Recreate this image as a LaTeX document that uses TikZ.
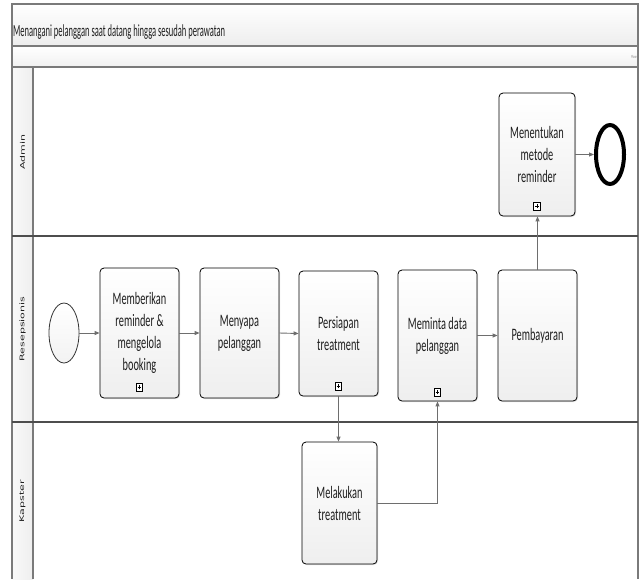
\documentclass[tikz,border=0pt]{standalone}
\usepackage{fontspec}
\usetikzlibrary{arrows.meta,shapes.geometric,shadows}
\newfontfamily\taskfont{Carlito}[FakeStretch=0.59]
\newfontfamily\titlefont{Carlito}[FakeStretch=0.5]
\newfontfamily\lanefont{DejaVu Sans}
\definecolor{framegray}{HTML}{7A7A7A}
\definecolor{lanegray}{HTML}{4D4D4D}
\definecolor{flowgray}{HTML}{6E6E6E}
\definecolor{textdark}{HTML}{1E1E1E}
\begin{document}
\begin{tikzpicture}[x=1pt,y=-1pt,
  frameline/.style={draw=framegray,line width=1.1pt},
  laneline/.style={draw=lanegray,line width=1.5pt},
  task/.style={draw=black,line width=0.8pt,rounded corners=4pt,
    top color=white,bottom color=gray!13,
    drop shadow={shadow xshift=1pt,shadow yshift=-1pt,opacity=0.25},
    align=center,inner sep=2pt,text=textdark,
    font=\taskfont\fontsize{17.5}{22}\selectfont},
  subproc/.style={draw=black,line width=0.7pt,fill=white,inner sep=0pt,
    minimum width=6.5pt,minimum height=8pt,
    path picture={\draw[line width=0.8pt]
      ([xshift=-1.8pt]path picture bounding box.center) -- ([xshift=1.8pt]path picture bounding box.center)
      ([yshift=-2pt]path picture bounding box.center) -- ([yshift=2pt]path picture bounding box.center);}},
  flow/.style={draw=flowgray,line width=0.9pt,-{Triangle[length=5pt,width=4pt]}},
  lanelabel/.style={rotate=90,text=textdark,inner sep=0pt,font=\lanefont\fontsize{11}{12}\selectfont}]

\useasboundingbox (0,0) rectangle (639,579);

% pool header, phase bar and lane header strip
\path[top color=white,bottom color=gray!14] (12,4) rectangle (638,46);
\path[top color=white,bottom color=gray!11] (12,46) rectangle (638,67);
\path[left color=gray!5,right color=gray!13] (12,67) rectangle (33,579);

\draw[frameline] (12,579) -- (12,4) -- (638,4) -- (638,579);
\draw[frameline] (12,46) -- (638,46);
\draw[frameline] (12,67) -- (638,67);
\draw[frameline] (33,67) -- (33,579);
\draw[laneline] (12,236) -- (638,236);
\draw[laneline] (12,422) -- (638,422);

\node[anchor=base west,inner sep=0pt,text=textdark,font=\titlefont\fontsize{17}{20}\selectfont]
  (title) at (13,36) {Menangani pelanggan saat datang hingga sesudah perawatan};
\node[anchor=east,inner sep=0pt,text=gray,font=\titlefont\fontsize{4.5}{5}\selectfont]
  (phase) at (637,57) {Phase};

% lane names
\node[lanelabel] (laneA) at (22.5,152) {\scalebox{1}[0.58]{Admin}};
\node[lanelabel] (laneR) at (22.5,329) {\scalebox{1}[0.58]{Resepsionis}};
\node[lanelabel] (laneK) at (22.5,501) {\scalebox{1}[0.58]{Kapster}};

% events
\node[ellipse,draw=black!80,line width=0.8pt,top color=white,bottom color=gray!10,
  minimum width=30pt,minimum height=60pt,inner sep=0pt] (start) at (64,333) {};
\node[ellipse,draw=black,line width=4pt,fill=white,
  minimum width=28pt,minimum height=59pt,inner sep=0pt] (end) at (610,154.5) {};

% activities
\node[task,minimum width=79pt,minimum height=130pt] (t1) at (139.5,333)
  {Memberikan\\reminder \&\\mengelola\\booking};
\node[task,minimum width=79pt,minimum height=130pt] (t2) at (239.5,333)
  {Menyapa\\pelanggan};
\node[task,minimum width=79pt,minimum height=125pt] (t3) at (338.5,333.5)
  {Persiapan\\treatment};
\node[task,minimum width=79pt,minimum height=131pt] (t4) at (437.5,335.5)
  {Meminta data\\pelanggan};
\node[task,minimum width=79pt,minimum height=131pt] (t5) at (537.5,335.5)
  {Pembayaran};
\node[task,minimum width=76pt,minimum height=123pt] (t6) at (537,154.5)
  {Menentukan\\metode\\reminder};
\node[task,minimum width=75pt,minimum height=122pt] (t7) at (339.5,503)
  {Melakukan\\treatment};

% collapsed sub-process markers
\node[subproc] (m1) at ([yshift=11pt]t1.south) {};
\node[subproc] (m3) at ([yshift=10pt]t3.south) {};
\node[subproc] (m4) at ([yshift=9pt]t4.south) {};
\node[subproc] (m6) at ([yshift=10pt]t6.south) {};

% sequence flows
\draw[flow] (start.east) -- (t1.west);
\draw[flow] (t1.east) -- (t2.west);
\draw[flow] (t2.east) -- (t3.west);
\draw[flow] (t3.south) -- (t3.south |- t7.north);
\draw[flow] (t7.east) -| (t4.south);
\draw[flow] (t4.east) -- (t5.west);
\draw[flow] (t5.north) -- (t5.north |- t6.south);
\draw[flow] (t6.east) -- (end.west);
\end{tikzpicture}
\end{document}
